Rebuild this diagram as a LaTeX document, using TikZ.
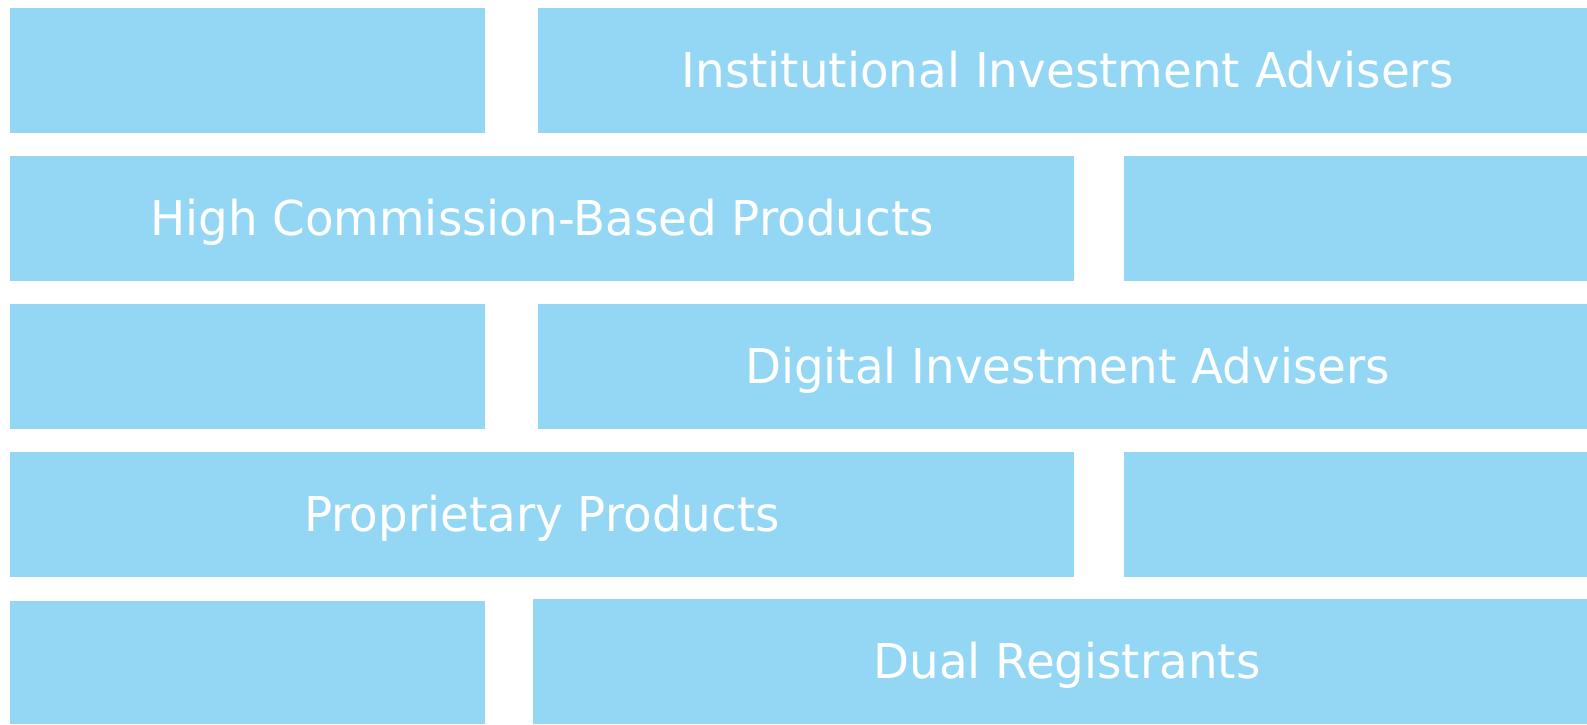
\documentclass[tikz,border=0pt]{standalone}
\usepackage{fontspec}
\setmainfont{DejaVu Sans}[FakeStretch=0.975]
\definecolor{brickblue}{RGB}{148,215,245}
\tikzset{
  brick/.style={fill=brickblue, draw=none, anchor=north west, inner sep=0pt,
    outer sep=0pt, minimum height=62.5pt, text=white,
    text height=17.5pt, text depth=1pt,
    font=\fontsize{24}{29}\selectfont},
  short/.style={brick, minimum width=237.5pt},
  long/.style={brick, minimum width=529.5pt},
  wide/.style={brick, minimum width=532pt},
  stub/.style={brick, minimum width=231.5pt}
}
\begin{document}
\begin{tikzpicture}[x=0.5pt,y=-0.5pt]
\useasboundingbox (0,0) rectangle (1587,724);
% first course
\node[short] (r1a) at (10,8) {};
\node[long]  (r1b) at (538,8) {Institutional Investment Advisers};
% second course
\node[wide] (r2a) at (10,156) {High Commission-Based Products};
\node[stub] (r2b) at (1124,156) {};
% third course
\node[short] (r3a) at (10,304) {};
\node[long]  (r3b) at (538,304) {Digital Investment Advisers};
% fourth course
\node[wide] (r4a) at (10,452) {Proprietary Products};
\node[stub] (r4b) at (1124,452) {};
% last course, cut off at the bottom
\node[short, minimum height=61.5pt] (r5a) at (10,601) {};
\node[brick, minimum width=534pt] (r5b) at (533,599) {Dual Registrants};
\end{tikzpicture}
\end{document}
